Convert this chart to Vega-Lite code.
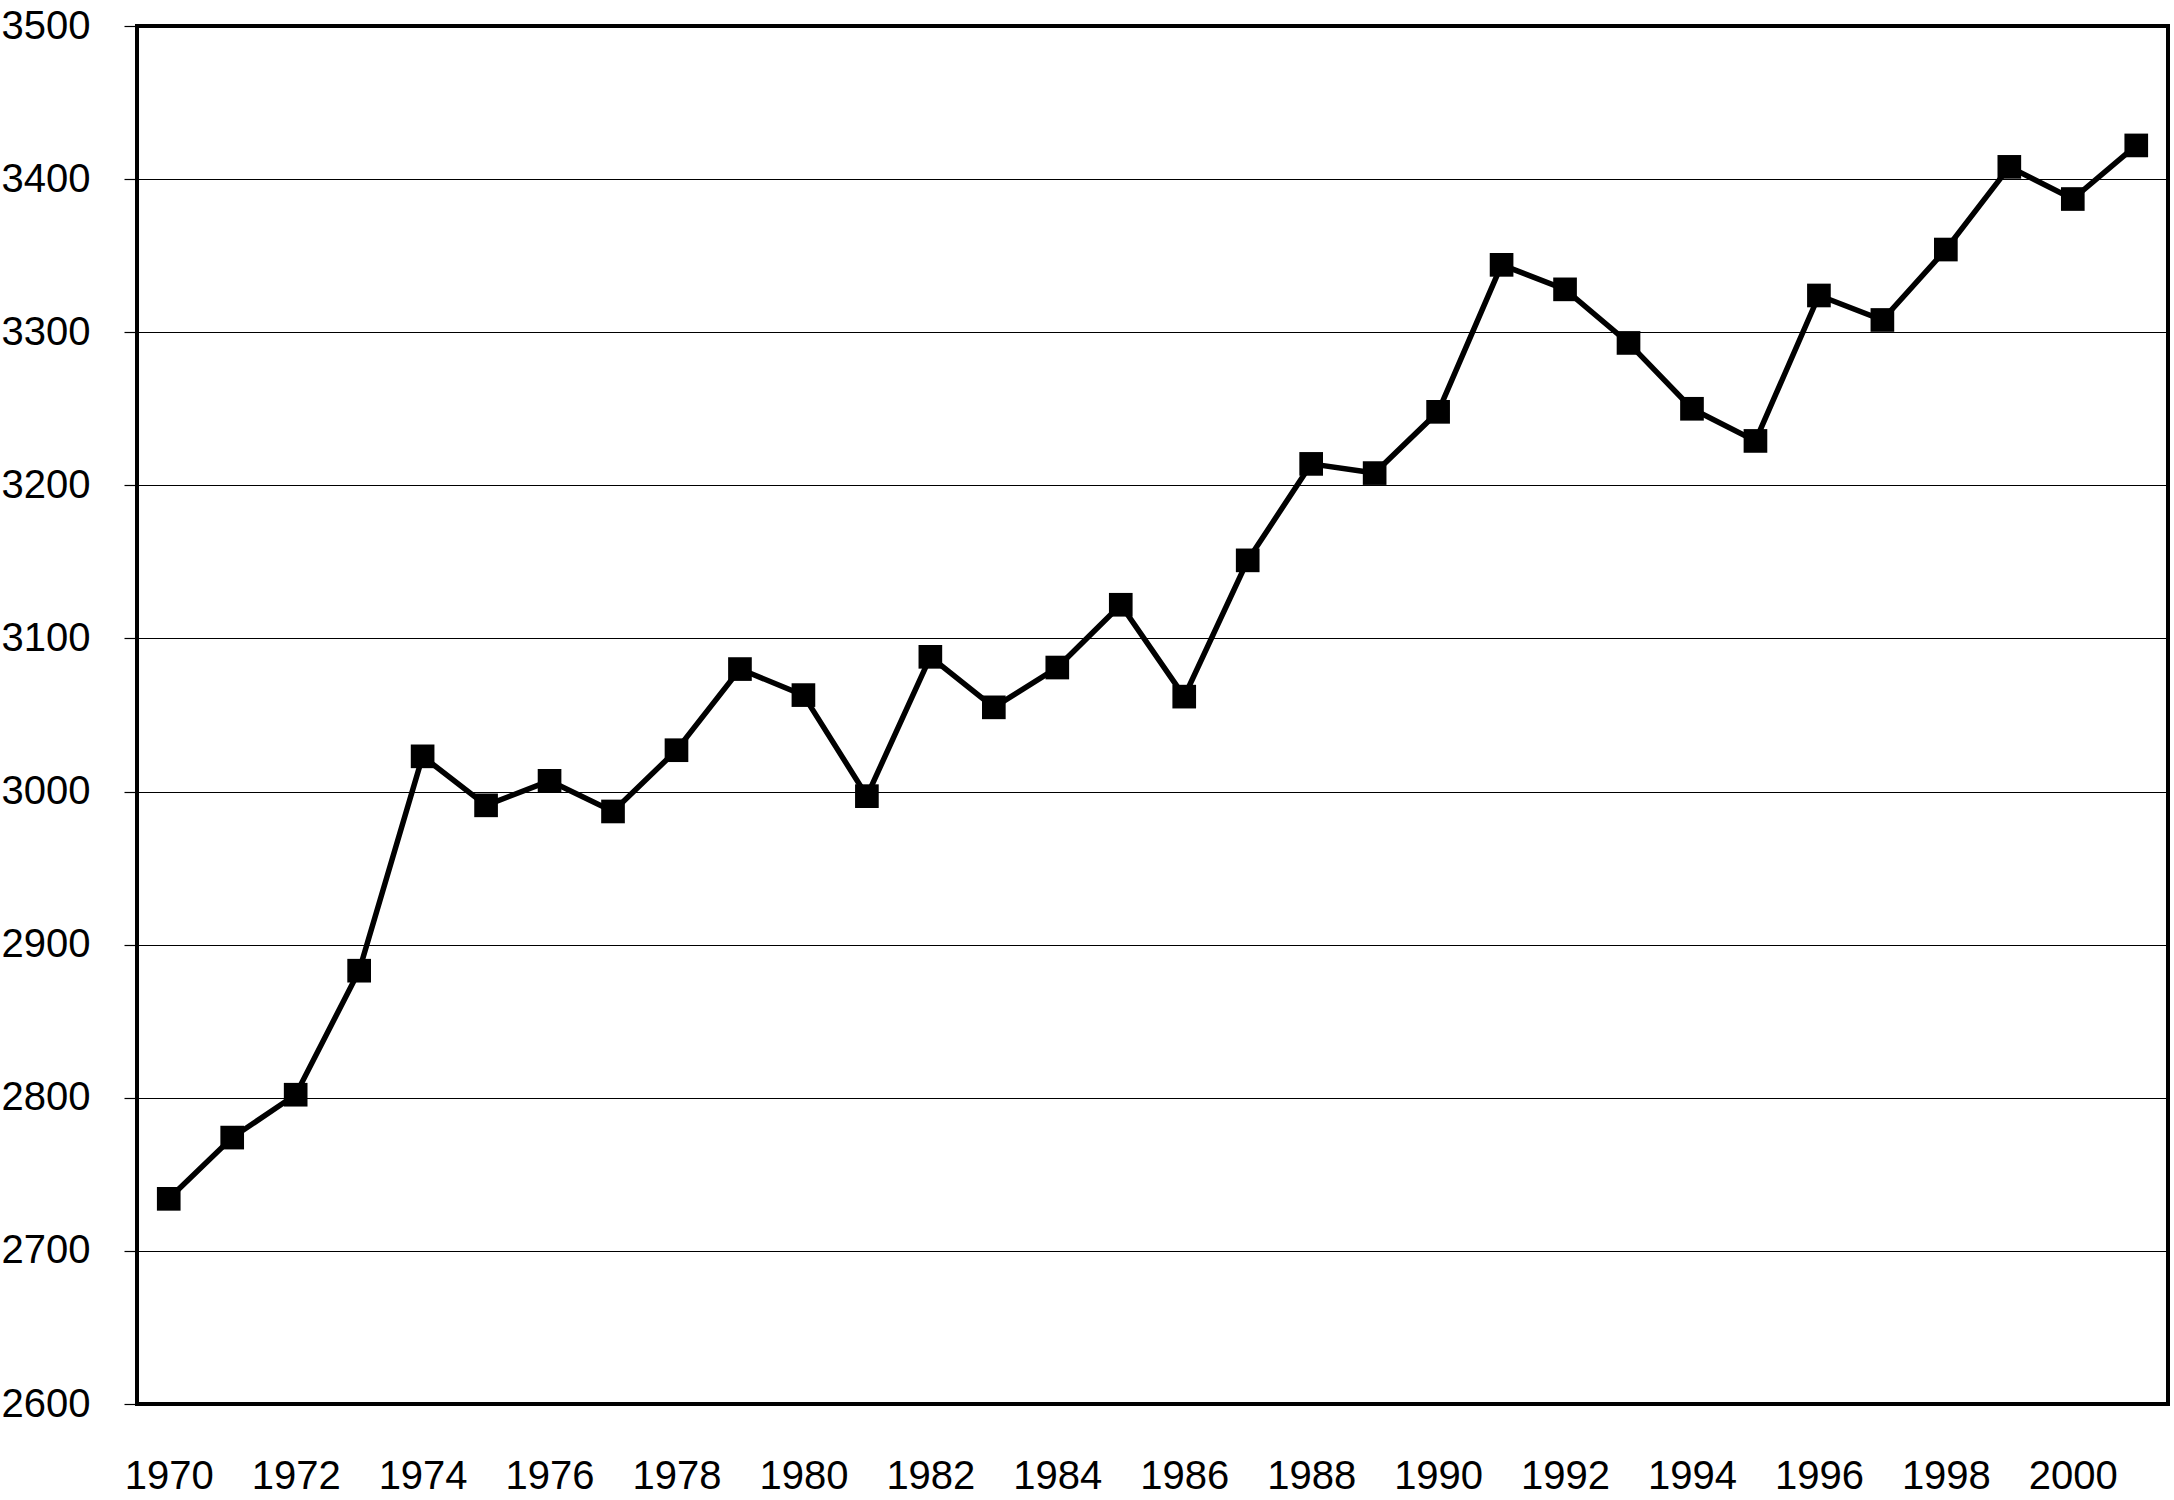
{
  "$schema": "https://vega.github.io/schema/vega-lite/v6.json",
  "autosize": {"type": "none"},
  "width": 2031,
  "height": 1378,
  "padding": {"left": 137, "top": 26, "right": 6, "bottom": 96},
  "background": "white",
  "config": {
    "view": {"stroke": "black", "strokeWidth": 4},
    "axis": {"labelFont": "Liberation Sans", "labelFontSize": 40, "labelColor": "black", "domain": false, "labelOverlap": false}
  },
  "data": {"values": [
    {"year": 1970, "value": 2734}, {"year": 1971, "value": 2774}, {"year": 1972, "value": 2802},
    {"year": 1973, "value": 2883}, {"year": 1974, "value": 3023}, {"year": 1975, "value": 2991},
    {"year": 1976, "value": 3007}, {"year": 1977, "value": 2987}, {"year": 1978, "value": 3027},
    {"year": 1979, "value": 3080}, {"year": 1980, "value": 3063}, {"year": 1981, "value": 2997},
    {"year": 1982, "value": 3088}, {"year": 1983, "value": 3055}, {"year": 1984, "value": 3081},
    {"year": 1985, "value": 3122}, {"year": 1986, "value": 3062}, {"year": 1987, "value": 3151},
    {"year": 1988, "value": 3214}, {"year": 1989, "value": 3208}, {"year": 1990, "value": 3248},
    {"year": 1991, "value": 3344}, {"year": 1992, "value": 3328}, {"year": 1993, "value": 3293},
    {"year": 1994, "value": 3250}, {"year": 1995, "value": 3229}, {"year": 1996, "value": 3324},
    {"year": 1997, "value": 3308}, {"year": 1998, "value": 3354}, {"year": 1999, "value": 3408},
    {"year": 2000, "value": 3387}, {"year": 2001, "value": 3422}
  ]},
  "encoding": {
    "x": {"field": "year", "type": "quantitative",
      "scale": {"domain": [1969.5, 2001.5], "nice": false, "zero": false},
      "axis": {"title": null, "grid": false, "ticks": false, "values": [1970,1972,1974,1976,1978,1980,1982,1984,1986,1988,1990,1992,1994,1996,1998,2000],
        "format": "d", "labelPadding": 72, "labelBaseline": "middle", "labelFlush": false}},
    "y": {"field": "value", "type": "quantitative",
      "scale": {"domain": [2600, 3500], "nice": false, "zero": false},
      "axis": {"title": null, "grid": true, "gridColor": "black", "gridWidth": 1.2, "gridOpacity": 1,
        "values": [2600,2700,2800,2900,3000,3100,3200,3300,3400,3500], "format": "d",
        "ticks": true, "tickColor": "black", "tickSize": 13, "tickWidth": 1.2,
        "labelPadding": 34, "labelAlign": "right", "labelBaseline": "middle", "labelFlush": false}}
  },
  "layer": [
    {"mark": {"type": "line", "color": "black", "strokeWidth": 5.5}},
    {"mark": {"type": "point", "shape": "square", "filled": true, "color": "black", "opacity": 1, "size": 560}}
  ]
}
